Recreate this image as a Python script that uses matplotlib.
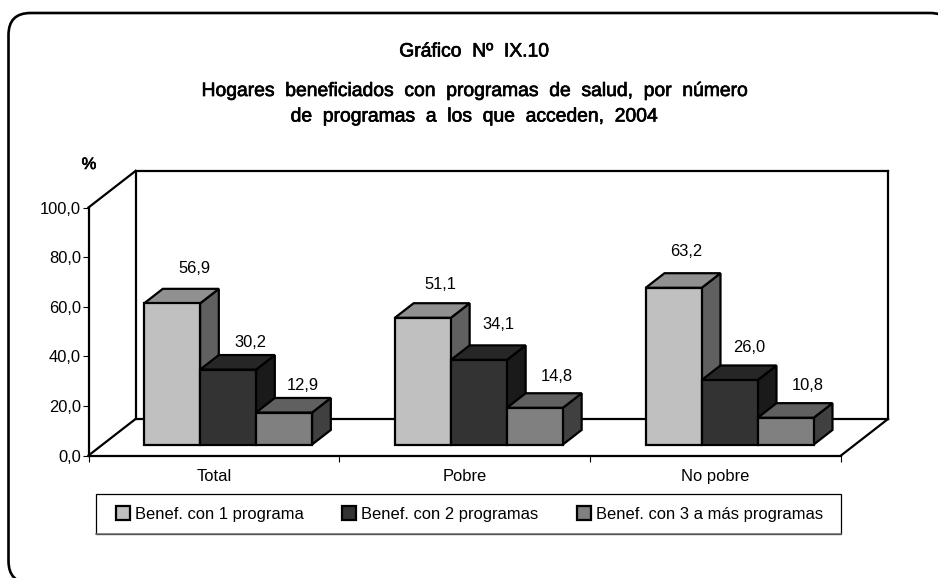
import matplotlib
matplotlib.use("Agg")
import matplotlib.pyplot as plt
import matplotlib.patheffects as pe
from matplotlib.patches import Polygon, FancyBboxPatch, Patch, Rectangle

categories = ["Total", "Pobre", "No pobre"]
series_names = ["Benef. con 1 programa", "Benef. con 2 programas", "Benef. con 3 a más programas"]
uno = [56.9, 51.1, 63.2]
dos = [30.2, 34.1, 26.0]
tres = [12.9, 14.8, 10.8]
yticks = [0, 20, 40, 60, 80, 100]

W, H = 938, 578
plt.rcParams['font.family'] = ['Liberation Sans', 'DejaVu Sans']
FS = 11.9
fig = plt.figure(figsize=(W / 100, H / 100), dpi=100, facecolor='white')

# outer frame (runs past the right and bottom edges of the picture)
bg = fig.add_axes([0, 0, 1, 1], zorder=0)
bg.set_xlim(0, W); bg.set_ylim(H, 0); bg.axis('off')
bg.add_patch(FancyBboxPatch((8.5 + 22, 13 + 22), 952 - 8.5 - 44, 583 - 13 - 44,
                            boxstyle="round,pad=22,rounding_size=22",
                            fc='white', ec='black', lw=1.9, clip_on=True))

# plotting axes: the front plane of the 3D box
L, R, T, B = 88.5, 841, 207.5, 455.5
ax = fig.add_axes([L / W, 1 - B / H, (R - L) / W, (B - T) / H], zorder=1)
ax.set_xlim(0, 3); ax.set_ylim(0, 100)
ax.patch.set_alpha(0)
ax.spines['top'].set_visible(False); ax.spines['right'].set_visible(False)
for s in ('left', 'bottom'):
    ax.spines[s].set_linewidth(1.6)
ax.set_yticks(yticks)
ax.set_yticklabels([f"{v:.1f}".replace('.', ',') for v in yticks], fontsize=FS)
ax.set_xticks([0, 1, 2, 3]); ax.set_xticklabels([])
ax.set_xticks([0.5, 1.5, 2.5], labels=categories, minor=True, fontsize=FS)
ax.tick_params(axis='x', which='minor', length=0, pad=10)
ax.tick_params(axis='both', which='major', length=4, width=0.8, pad=1.5)

px_x = (R - L) / 3
px_y = (B - T) / 100
DX, DY = 47 / px_x, 36.5 / px_y     # full depth of the box, in data units

def P(x, y, d):
    return (x + d * DX, y + d * DY)

def poly(pts, fc, z, lw=1.6):
    ax.add_patch(Polygon(pts, closed=True, fc=fc, ec='black', lw=lw, joinstyle='miter',
                         clip_on=False, zorder=z))

# walls
LW = 1.6
for a, b in [((0, 100, 0), (0, 100, 1)), ((0, 0, 0), (0, 0, 1)), ((3, 0, 0), (3, 0, 1)),
             ((0, 0, 1), (0, 100, 1)), ((0, 100, 1), (3, 100, 1)),
             ((3, 100, 1), (3, 0, 1)), ((3, 0, 1), (0, 0, 1))]:
    pa, pb = P(*a), P(*b)
    ax.plot([pa[0], pb[0]], [pa[1], pb[1]], color='black', lw=LW, clip_on=False, zorder=1,
            solid_capstyle='projecting')

bw = 56 / px_x
gap = (1 - 3 * bw) / 2
d0, d1 = 0.30, 0.70
styles = [("#C0C0C0", "#909090", "#606060"),
          ("#333333", "#262626", "#1A1A1A"),
          ("#808080", "#606060", "#404040")]
# offset of each value label from its bar's back top edge, in points, [series][category]
label_dx = [[2.5, -1.1, -4.7], [2.5, 0.3, 0.3], [0.3, 2.5, 2.5]]
label_dy = [[9.4, 8.0, 10.1], [3.8, 9.6, 7.4], [3.8, 6.7, 7.4]]
z = 3
for s, vals in enumerate([uno, dos, tres]):
    front, top, side = styles[s]
    for c, v in enumerate(vals):
        x0 = c + gap + s * bw
        x1 = x0 + bw
        poly([P(x1, 0, d0), P(x1, 0, d1), P(x1, v, d1), P(x1, v, d0)], side, z)
        poly([P(x0, v, d0), P(x1, v, d0), P(x1, v, d1), P(x0, v, d1)], top, z)
        poly([P(x0, 0, d0), P(x1, 0, d0), P(x1, v, d0), P(x0, v, d0)], front, z)
        lx, ly = P(x0 + bw / 2, v, d1)
        ax.annotate(f"{v:.1f}".replace('.', ','), (lx, ly),
                    xytext=(label_dx[s][c], label_dy[s][c]),
                    textcoords='offset points', ha='center', va='bottom', fontsize=FS,
                    zorder=10, annotation_clip=False)

stroke = [pe.withStroke(linewidth=0.5, foreground='black')]
for txt, y in [("Gráfico  Nº  IX.10", 52),
               ("Hogares  beneficiados  con  programas  de  salud,  por  número", 91.5),
               ("de  programas  a  los  que  acceden,  2004", 117)]:
    bg.text(474, y, txt, ha='center', va='center', fontsize=13.9, path_effects=stroke, zorder=5)
bg.text(89, 164.5, "%", ha='center', va='center', fontsize=FS, path_effects=stroke, zorder=5)

# legend: frame drawn separately because its side padding exceeds its vertical padding
bg.add_patch(Rectangle((96, 494), 745, 40, fc='white', ec='black', lw=0.9))
bg.plot([96, 841], [534, 534], color='#707070', lw=1.1)
handles = [Patch(fc=st[0], ec='black', lw=1.6) for st in styles]
leg = ax.legend(handles, series_names, ncol=3, loc='center', fontsize=FS,
                bbox_to_anchor=(469.5 / W, 1 - 514 / H, 0, 0), bbox_transform=fig.transFigure,
                frameon=False, handlelength=0.85, handleheight=0.85, handletextpad=0.3,
                columnspacing=2.33, borderpad=0, borderaxespad=0)

fig.savefig("out.png", dpi=100, facecolor='white')
